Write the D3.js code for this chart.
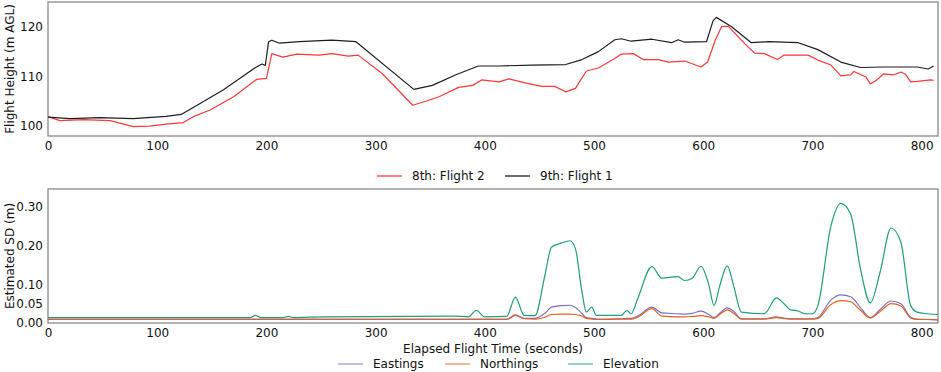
<!DOCTYPE html>
<html>
<head>
<meta charset="utf-8">
<script src="https://cdn.jsdelivr.net/npm/d3@7"></script>
<style>
    body { margin: 0; background: #fff; }
    text { font-family: "DejaVu Sans", sans-serif; fill: #111; }
</style>
</head>
<body>
<div id="vis"></div>
<script>
// flight height, 9th: Flight 1 (black)
var flight1Time = [0, 20, 47, 78, 108, 122, 160, 190, 196, 199, 202, 205, 212, 230, 260, 282,
    335, 352, 373, 394, 413, 443, 474, 489, 504, 519, 525, 534, 553, 571, 577, 583, 603, 609,
    612, 626, 644, 660, 687, 705, 726, 744, 765, 796, 806, 811];
var flight1Height = [101.8, 101.5, 101.7, 101.5, 101.95, 102.35, 107.2, 111.8, 112.5, 112.2, 117.0,
    117.3, 116.7, 117.0, 117.3, 117.0, 107.4, 108.2, 110.3, 112.1, 112.1, 112.3, 112.4, 113.4,
    115.0, 117.4, 117.6, 117.1, 117.5, 116.8, 117.4, 116.9, 117.0, 121.2, 121.9, 120.0, 116.8,
    117.0, 116.8, 115.4, 112.9, 111.8, 111.9, 111.9, 111.5, 112.1];

// flight height, 8th: Flight 2 (red)
var flight2Time = [0, 11, 32, 57, 78, 93, 108, 124, 133, 148, 170, 191, 200, 205, 215, 228, 248,
    260, 275, 284, 306, 334, 346, 358, 376, 389, 397, 413, 422, 437, 452, 464, 474, 483, 493,
    504, 519, 525, 536, 545, 559, 568, 583, 598, 604, 611, 617, 623, 638, 647, 656, 668, 674,
    696, 705, 717, 726, 735, 738, 749, 753, 759, 765, 774, 781, 785, 790, 796, 808, 811];
var flight2Height = [101.9, 101.1, 101.3, 101.1, 99.9, 100.0, 100.4, 100.7, 101.9, 103.2, 105.9,
    109.4, 109.6, 114.6, 113.9, 114.5, 114.3, 114.6, 114.1, 114.3, 110.6, 104.2, 105.0, 105.9,
    107.8, 108.2, 109.3, 108.9, 109.5, 108.7, 108.0, 108.0, 106.9, 107.6, 111.1, 111.7, 113.6,
    114.5, 114.6, 113.4, 113.4, 112.9, 113.1, 111.9, 112.9, 117.3, 120.1, 120.1, 116.6, 114.7,
    114.6, 113.4, 114.3, 114.3, 113.3, 112.3, 110.1, 110.3, 111.0, 109.9, 108.5, 109.3, 110.5,
    110.3, 110.9, 110.5, 108.9, 109.0, 109.3, 109.2];

// estimated SD
var sdTime = [0, 100, 185, 190, 195, 215, 220, 225, 251, 372, 385, 392, 400, 420, 428, 436, 446, 455,
    461, 470, 478, 483, 489, 493, 498, 502, 525, 530, 534, 540, 553, 562, 577, 583, 590, 598,
    605, 610, 615, 622, 628, 635, 656, 667, 674, 680, 687, 693, 700, 705, 717, 726, 735, 744,
    753, 762, 772, 781, 790, 796, 805, 815];
var elevationSD = [0.014, 0.014, 0.014, 0.020, 0.014, 0.014, 0.017, 0.014, 0.016, 0.018, 0.016, 0.033,
    0.016, 0.017, 0.067, 0.020, 0.019, 0.123, 0.196, 0.207, 0.213, 0.192, 0.080, 0.028, 0.041,
    0.020, 0.020, 0.032, 0.024, 0.063, 0.146, 0.116, 0.120, 0.110, 0.116, 0.147, 0.100, 0.045,
    0.095, 0.148, 0.095, 0.028, 0.024, 0.065, 0.050, 0.034, 0.031, 0.024, 0.024, 0.045, 0.252,
    0.310, 0.282, 0.140, 0.052, 0.132, 0.246, 0.209, 0.045, 0.028, 0.024, 0.022];
var eastingsSD = [0.010, 0.010, 0.010, 0.010, 0.010, 0.010, 0.010, 0.010, 0.010, 0.010, 0.010, 0.010,
    0.010, 0.010, 0.021, 0.012, 0.012, 0.025, 0.041, 0.045, 0.046, 0.040, 0.025, 0.014, 0.012,
    0.010, 0.011, 0.012, 0.012, 0.018, 0.041, 0.026, 0.024, 0.023, 0.025, 0.031, 0.022, 0.014,
    0.025, 0.039, 0.030, 0.011, 0.011, 0.016, 0.013, 0.011, 0.011, 0.011, 0.011, 0.014, 0.060,
    0.073, 0.068, 0.040, 0.014, 0.035, 0.057, 0.050, 0.015, 0.010, 0.009, 0.008];
var northingsSD = [0.009, 0.009, 0.009, 0.009, 0.009, 0.009, 0.009, 0.009, 0.009, 0.009, 0.009, 0.009,
    0.009, 0.009, 0.020, 0.011, 0.010, 0.015, 0.022, 0.023, 0.023, 0.022, 0.018, 0.012, 0.010,
    0.009, 0.010, 0.010, 0.010, 0.015, 0.037, 0.018, 0.016, 0.016, 0.017, 0.019, 0.016, 0.012,
    0.022, 0.034, 0.025, 0.010, 0.010, 0.014, 0.011, 0.010, 0.010, 0.010, 0.010, 0.012, 0.048,
    0.058, 0.055, 0.033, 0.013, 0.030, 0.050, 0.044, 0.013, 0.009, 0.009, 0.008];

var timeTicks = [0, 100, 200, 300, 400, 500, 600, 700, 800];
var heightTicks = [100, 110, 120];
var sdTicks = [0, 0.05, 0.1, 0.2, 0.3];

class FlightCharts
{
    constructor(width, height)
    {
        this.width = width;
        this.height = height;
        this.left = 48;
        this.right = 938;
        this.frameColor = '#8a8a8a';

        this.svg = d3.select('#vis')
            .append('svg')
                .attr('width', this.width)
                .attr('height', this.height);

        this.x = d3.scaleLinear()
            .domain([0, 815])
            .range([this.left, this.right]);
    }

    // draws frame + tick labels, returns y scale
    drawPanel(top, bottom, yDomain, yTicks, yFormat, yLabel)
    {
        var y = d3.scaleLinear().domain(yDomain).range([bottom, top]);

        var xAxis = this.svg.append('g')
            .attr('transform', 'translate(0,' + bottom + ')')
            .call(d3.axisBottom(this.x).tickValues(timeTicks).tickSize(0).tickPadding(5));
        var yAxis = this.svg.append('g')
            .attr('transform', 'translate(' + this.left + ',0)')
            .call(d3.axisLeft(y).tickValues(yTicks).tickFormat(yFormat).tickSize(0).tickPadding(5));

        [xAxis, yAxis].forEach(function(a) {
            a.select('.domain').remove();
            a.selectAll('text')
                .attr('font-size', 12)
                .attr('font-family', '"DejaVu Sans", sans-serif')
                .attr('fill', '#111');
        });

        this.svg.append('rect')
            .attr('x', this.left)
            .attr('y', top)
            .attr('width', this.right - this.left)
            .attr('height', bottom - top)
            .attr('fill', 'none')
            .attr('stroke', this.frameColor)
            .attr('stroke-width', 1.3);

        this.svg.append('text')
            .attr('transform', 'translate(14,' + ((top + bottom) / 2) + ') rotate(-90)')
            .attr('text-anchor', 'middle')
            .attr('font-size', 12)
            .text(yLabel);

        return y;
    }

    drawLine(xs, ys, y, color, curve)
    {
        var that = this;
        var pts = xs.map(function(t, i) { return [t, ys[i]]; });
        var line = d3.line()
            .x(function(d) { return that.x(d[0]); })
            .y(function(d) { return y(d[1]); })
            .curve(curve);
        this.svg.append('path')
            .datum(pts)
            .attr('d', line)
            .attr('fill', 'none')
            .attr('stroke', color)
            .attr('stroke-width', 1.2)
            .attr('stroke-linejoin', 'round');
    }

    drawLegend(items, cy, xs)
    {
        var that = this;
        items.forEach(function(it, i) {
            that.svg.append('line')
                .attr('x1', xs[i]).attr('x2', xs[i] + 25)
                .attr('y1', cy).attr('y2', cy)
                .attr('stroke', it.color)
                .attr('stroke-opacity', it.opacity || 1)
                .attr('stroke-width', 1.3);
            that.svg.append('text')
                .attr('x', xs[i] + 35)
                .attr('y', cy)
                .attr('dy', '0.35em')
                .attr('font-size', 12)
                .text(it.name);
        });
    }

    Run()
    {
        // top panel: flight height
        var yTop = this.drawPanel(2, 136, [98, 125], heightTicks, d3.format('d'), 'Flight Height (m AGL)');
        this.drawLine(flight2Time, flight2Height, yTop, '#ff3838', d3.curveLinear);
        this.drawLine(flight1Time, flight1Height, yTop, '#1e1e1e', d3.curveLinear);

        this.drawLegend([
            {name: '8th: Flight 2', color: '#ff3838'},
            {name: '9th: Flight 1', color: '#1e1e1e'}
        ], 176, [377, 505]);

        // bottom panel: estimated SD
        var yBot = this.drawPanel(189, 323, [0, 0.347], sdTicks, d3.format('.2f'), 'Estimated SD (m)');
        this.drawLine(sdTime, elevationSD, yBot, '#1f9e77', d3.curveMonotoneX);
        this.drawLine(sdTime, eastingsSD, yBot, '#7a70c9', d3.curveMonotoneX);
        this.drawLine(sdTime, northingsSD, yBot, '#e8601c', d3.curveMonotoneX);

        this.svg.append('text')
            .attr('x', (this.left + this.right) / 2)
            .attr('y', 353)
            .attr('text-anchor', 'middle')
            .attr('font-size', 12)
            .text('Elapsed Flight Time (seconds)');

        this.drawLegend([
            {name: 'Eastings', color: '#7a70c9', opacity: 0.7},
            {name: 'Northings', color: '#e8601c', opacity: 0.7},
            {name: 'Elevation', color: '#1f9e77', opacity: 0.7}
        ], 364, [338, 445, 568]);
    }
}

window.onload = function()
{
    var chart = new FlightCharts(941, 372);
    chart.Run();
}
</script>
</body>
</html>
